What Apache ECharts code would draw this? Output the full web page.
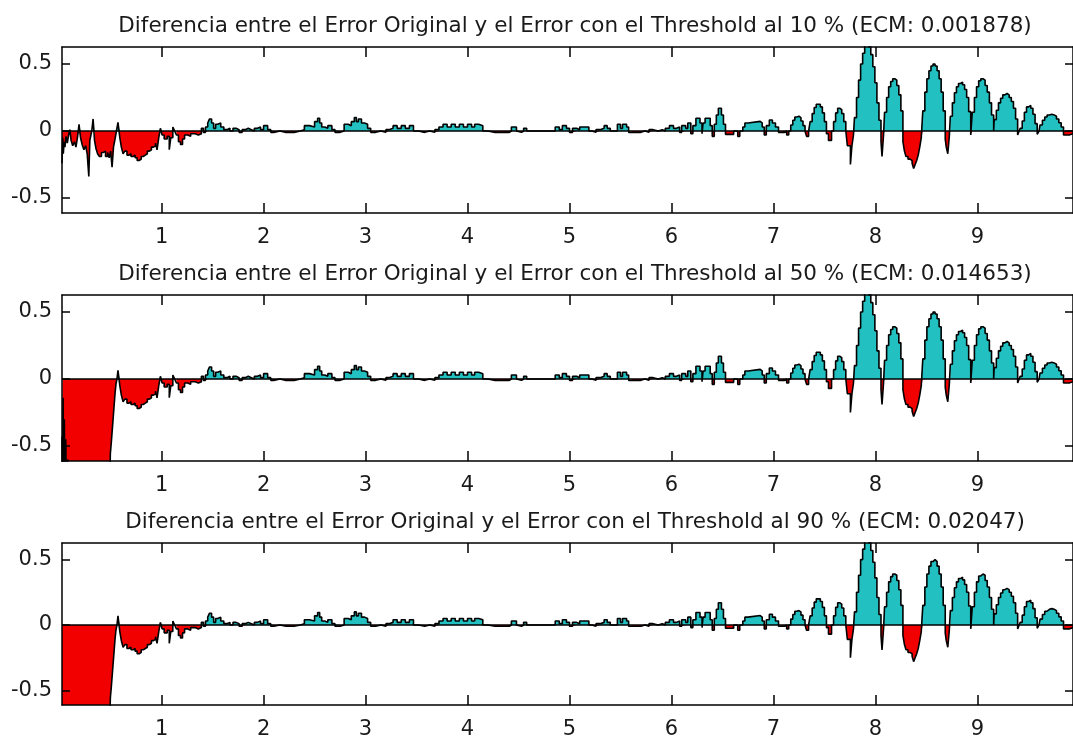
<!DOCTYPE html>
<html>
<head>
<meta charset="utf-8">
<script src="https://cdn.jsdelivr.net/npm/echarts@6/dist/echarts.min.js"></script>
<style>
html,body{margin:0;padding:0;background:#fff;}
#c{width:1073px;height:740px;}
</style>
</head>
<body>
<div id="c"></div>
<script>
const titles = [
  'Diferencia entre el Error Original y el Error con el Threshold al 10 % (ECM: 0.001878)',
  'Diferencia entre el Error Original y el Error con el Threshold al 50 % (ECM: 0.014653)',
  'Diferencia entre el Error Original y el Error con el Threshold al 90 % (ECM: 0.02047)'
];
const xTicks = [1, 2, 3, 4, 5, 6, 7, 8, 9];
const yTicks = [-0.5, 0, 0.5];

// start of each signal (differs per threshold): [x, value]
const head10 = [[0.023,-0.24],[0.03,-0.05],[0.036,-0.17],[0.044,-0.08],[0.052,-0.12],[0.062,-0.04],[0.075,-0.09],[0.09,-0.02],[0.1,0.01],[0.112,-0.07],[0.128,-0.11],[0.145,-0.08],[0.16,-0.12],[0.176,-0.04],[0.19,0.05],[0.205,-0.05],[0.22,-0.1],[0.238,-0.14],[0.255,-0.11],[0.27,-0.17],[0.286,-0.34],[0.296,-0.07],[0.315,0.0],[0.328,0.09],[0.342,-0.07],[0.356,-0.13],[0.372,-0.17],[0.39,-0.19],[0.41,-0.16],[0.43,-0.15],[0.45,-0.19],[0.47,-0.16],[0.486,-0.2],[0.5,-0.15],[0.514,-0.27],[0.528,-0.12],[0.543,-0.06],[0.557,0.0],[0.572,0.065]];
const head50 = [[0.023,-0.43],[0.029,-1.2],[0.034,-0.14],[0.039,-0.9],[0.046,-0.3],[0.052,-1.1],[0.06,-0.45],[0.068,-1.0],[0.08,-0.6],[0.092,-1.4],[0.3,-1.6],[0.49,-0.9],[0.497,-0.56],[0.507,-0.47],[0.516,-0.38],[0.525,-0.29],[0.534,-0.2],[0.543,-0.11],[0.552,-0.04],[0.562,0.0],[0.572,0.065]];
const head90 = [[0.023,-1.5],[0.2,-1.8],[0.4,-1.3],[0.49,-0.85],[0.497,-0.56],[0.507,-0.47],[0.516,-0.38],[0.525,-0.29],[0.534,-0.2],[0.543,-0.11],[0.552,-0.04],[0.562,0.0],[0.572,0.07]];

// common remainder of the signal: [x, value]
const tail = [[0.59,-0.05],[0.605,-0.12],[0.622,-0.17],[0.64,-0.15],[0.66,-0.18],[0.68,-0.17],[0.7,-0.19],[0.72,-0.18],[0.74,-0.2],[0.76,-0.22],[0.78,-0.21],[0.8,-0.19],[0.82,-0.18],[0.84,-0.17],[0.86,-0.15],[0.88,-0.14],[0.9,-0.12],[0.92,-0.11],[0.94,-0.09],[0.955,-0.14],[0.972,-0.05],[0.988,0.02],[1.005,-0.03],[1.025,-0.06],[1.055,-0.04],[1.075,-0.14],[1.09,-0.05],[1.11,0.03],[1.128,0.0],[1.145,-0.03],[1.165,-0.08],[1.185,-0.1],[1.205,-0.06],[1.225,-0.03],[1.255,-0.04],[1.285,-0.02],[1.33,-0.03],[1.36,-0.02],[1.39,0.02],[1.41,-0.01],[1.43,0.03],[1.452,0.06],[1.47,0.09],[1.49,0.06],[1.51,0.02],[1.53,0.05],[1.55,0.06],[1.58,0.03],[1.61,0.01],[1.64,0.02],[1.67,0.0],[1.7,0.02],[1.73,0.01],[1.76,-0.01],[1.79,0.01],[1.82,0.02],[1.85,0.01],[1.88,0.0],[1.91,0.02],[1.94,0.03],[1.97,0.01],[2.0,0.04],[2.04,0.01],[2.07,-0.01],[2.1,0.0],[2.16,-0.01],[2.22,-0.01],[2.3,0.0],[2.36,0.01],[2.4,0.04],[2.45,0.03],[2.5,0.07],[2.53,0.095],[2.55,0.06],[2.57,0.03],[2.6,0.02],[2.63,0.04],[2.67,0.01],[2.7,-0.01],[2.75,0.0],[2.79,0.05],[2.83,0.04],[2.86,0.07],[2.89,0.1],[2.91,0.07],[2.93,0.09],[2.96,0.06],[2.99,0.05],[3.02,0.02],[3.05,-0.01],[3.1,0.0],[3.15,-0.01],[3.2,0.01],[3.23,0.02],[3.27,0.04],[3.31,0.02],[3.35,0.04],[3.39,0.02],[3.43,0.04],[3.47,0.0],[3.52,-0.01],[3.58,0.0],[3.63,-0.01],[3.68,0.01],[3.72,0.03],[3.76,0.05],[3.8,0.03],[3.84,0.05],[3.88,0.03],[3.92,0.05],[3.96,0.03],[4.0,0.05],[4.04,0.03],[4.07,0.05],[4.11,0.04],[4.15,0.0],[4.2,-0.01],[4.27,-0.01],[4.41,0.0],[4.43,0.03],[4.48,0.0],[4.49,-0.01],[4.53,0.0],[4.55,0.02],[4.58,0.0],[4.86,0.03],[4.9,0.01],[4.93,0.04],[4.97,0.02],[5.0,-0.01],[5.03,0.02],[5.07,0.01],[5.1,0.03],[5.15,0.03],[5.19,0.0],[5.22,-0.01],[5.26,0.01],[5.3,0.02],[5.34,0.04],[5.37,0.02],[5.4,0.0],[5.44,0.0],[5.47,0.05],[5.5,0.02],[5.52,0.05],[5.56,0.03],[5.58,-0.01],[5.64,-0.01],[5.7,0.0],[5.74,-0.01],[5.78,0.01],[5.82,0.0],[5.87,0.01],[5.91,0.0],[5.94,0.02],[5.98,0.04],[6.02,0.02],[6.05,0.03],[6.08,-0.01],[6.1,0.04],[6.14,0.02],[6.16,0.06],[6.19,-0.02],[6.21,0.04],[6.24,0.095],[6.28,0.06],[6.3,-0.02],[6.31,0.06],[6.33,0.095],[6.38,0.04],[6.4,-0.04],[6.42,0.05],[6.44,0.12],[6.46,0.17],[6.49,0.12],[6.51,0.05],[6.53,-0.025],[6.61,0.0],[6.65,-0.04],[6.67,0.0],[6.7,0.03],[6.72,0.06],[6.75,0.072],[6.87,0.06],[6.89,0.03],[6.91,-0.03],[6.93,0.04],[6.96,0.082],[6.99,0.06],[7.02,0.03],[7.05,-0.01],[7.11,0.0],[7.13,-0.03],[7.15,0.0],
[7.17,0.045],[7.19,0.08],[7.21,0.105],[7.23,0.11],[7.25,0.1],[7.27,0.075],[7.29,0.04],[7.31,0.0],[7.325,-0.04],[7.345,0.0],
[7.36,0.07],[7.38,0.13],[7.4,0.175],[7.42,0.2],[7.44,0.2],[7.46,0.18],[7.48,0.135],[7.5,0.07],[7.52,-0.02],[7.54,-0.07],[7.57,0.0],
[7.59,0.07],[7.61,0.135],[7.63,0.17],[7.65,0.16],[7.67,0.13],[7.69,0.07],[7.71,0.0],[7.725,-0.11],[7.755,-0.25],[7.77,-0.11],[7.785,-0.03],
[7.795,0.1],[7.815,0.25],[7.835,0.38],[7.855,0.5],[7.875,0.58],[7.895,0.64],[7.915,0.66],[7.935,0.63],[7.955,0.57],[7.975,0.48],[7.995,0.36],[8.015,0.21],[8.035,0.08],[8.055,-0.08],[8.065,-0.19],[8.08,-0.03],
[8.09,0.14],[8.11,0.25],[8.13,0.33],[8.15,0.37],[8.17,0.39],[8.19,0.38],[8.21,0.34],[8.23,0.27],[8.25,0.15],
[8.27,-0.08],[8.285,-0.15],[8.3,-0.19],[8.32,-0.21],[8.34,-0.22],[8.36,-0.24],[8.375,-0.28],[8.39,-0.25],[8.405,-0.22],[8.42,-0.18],[8.435,-0.12],[8.45,-0.05],
[8.465,0.15],[8.485,0.29],[8.505,0.39],[8.525,0.45],[8.545,0.485],[8.565,0.5],[8.585,0.485],[8.605,0.45],[8.625,0.39],[8.645,0.29],[8.665,0.15],
[8.685,-0.06],[8.695,-0.12],[8.71,-0.17],[8.725,-0.04],
[8.735,0.11],[8.755,0.21],[8.775,0.285],[8.795,0.33],[8.815,0.355],[8.835,0.365],[8.855,0.345],[8.875,0.31],[8.895,0.25],[8.915,0.145],[8.935,-0.03],
[8.95,0.14],[8.971,0.25],[8.992,0.33],[9.013,0.375],[9.034,0.39],[9.055,0.38],[9.076,0.34],[9.097,0.29],[9.118,0.21],[9.139,0.12],[9.16,0.0],
[9.165,0.085],[9.186,0.155],[9.207,0.21],[9.228,0.245],[9.249,0.27],[9.27,0.28],[9.291,0.27],[9.312,0.25],[9.333,0.22],[9.354,0.17],[9.375,0.09],[9.395,-0.03],[9.41,0.0],[9.42,0.02],
[9.44,0.075],[9.461,0.14],[9.482,0.18],[9.503,0.19],[9.524,0.17],[9.545,0.125],[9.566,0.055],[9.587,-0.025],[9.605,0.0],
[9.615,0.045],[9.638,0.08],[9.661,0.105],[9.684,0.12],[9.707,0.125],[9.73,0.12],[9.753,0.11],[9.776,0.09],[9.799,0.062],[9.822,0.03],[9.845,-0.03],[9.9,-0.02],[9.94,-0.02]];

const heads = [head10, head50, head90];

const X_MIN = 0.023, X_MAX = 9.938, Y_MIN = -0.612, Y_MAX = 0.627;
const tops = [47, 295, 543];
const FONT = 'DejaVu Sans';
const TXT = '#1a1a1a';
const CYAN = '#22c0c0', RED = '#f20000';

const chart = echarts.init(document.getElementById('c'), null, {renderer: 'canvas'});

const grid = [], xAxis = [], yAxis = [], series = [], title = [];
tops.forEach((t, i) => {
  grid.push({left: 62, top: t, width: 1015, height: 166, show: false});
  title.push({
    text: titles[i], left: 570, top: t - 37, textAlign: 'center',
    textStyle: {fontFamily: FONT, fontSize: 21.5, fontWeight: 'normal', color: TXT}
  });
  const axLine = {show: true, onZero: false, lineStyle: {color: '#000', width: 1.5}};
  ['bottom', 'top'].forEach(pos => {
    xAxis.push({
      type: 'value', gridIndex: i, position: pos, min: X_MIN, max: X_MAX, z: 5,
      axisLine: axLine,
      axisTick: {show: true, inside: true, length: 10, customValues: xTicks, lineStyle: {color: '#000', width: 1.5}},
      axisLabel: {show: pos === 'bottom', customValues: xTicks, margin: 14, fontFamily: FONT, fontSize: 21, color: TXT},
      splitLine: {show: false}
    });
  });
  ['left', 'right'].forEach(pos => {
    yAxis.push({
      type: 'value', gridIndex: i, position: pos, min: Y_MIN, max: Y_MAX, z: 5,
      axisLine: axLine,
      axisTick: {show: true, inside: true, length: 8, customValues: yTicks, lineStyle: {color: '#000', width: 1.5}},
      axisLabel: {show: pos === 'left', customValues: yTicks, margin: 10, fontFamily: FONT, fontSize: 21, color: TXT},
      splitLine: {show: false}
    });
  });
  const data = heads[i].concat(tail);
  const pos = data.map(d => [d[0], Math.max(d[1], 0)]);
  const neg = data.map(d => [d[0], Math.min(d[1], 0)]);
  const base = {type: 'line', xAxisIndex: i * 2, yAxisIndex: i * 2, step: 'end', showSymbol: false, symbol: 'none', clip: true, silent: true};
  series.push(Object.assign({}, base, {data: pos, lineStyle: {width: 0, opacity: 0}, areaStyle: {color: CYAN, opacity: 1}, z: 2}));
  series.push(Object.assign({}, base, {data: neg, lineStyle: {width: 0, opacity: 0}, areaStyle: {color: RED, opacity: 1}, z: 2}));
  series.push(Object.assign({}, base, {
    data: data, lineStyle: {color: '#000', width: 1.6}, z: 3,
    markLine: {silent: true, symbol: ['none', 'none'], label: {show: false}, animation: false,
      lineStyle: {color: '#000', type: 'solid', width: 1.5}, data: [{yAxis: 0}]}
  }));
});

chart.setOption({animation: false, backgroundColor: '#fff', title, grid, xAxis, yAxis, series});
</script>
</body>
</html>
